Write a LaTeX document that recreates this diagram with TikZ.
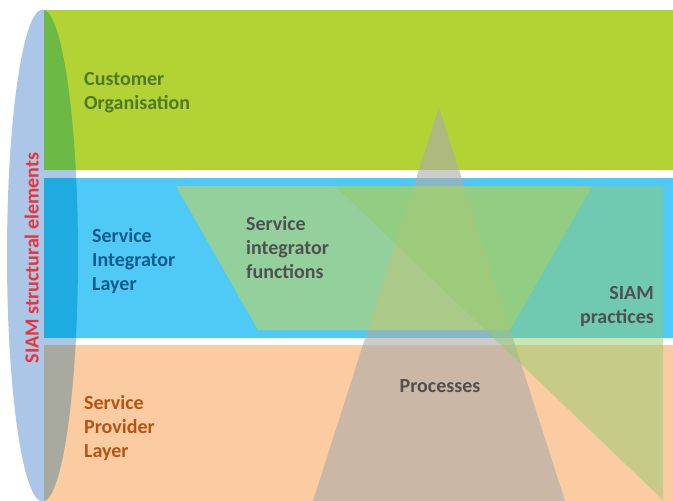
\documentclass[tikz,border=0pt]{standalone}
\usepackage{fontspec}
\setmainfont{Carlito}
\usepackage{xcolor}
\usetikzlibrary{calc}
\definecolor{LayerGreen}{HTML}{B3D335}
\definecolor{LayerBlue}{HTML}{4FC9F5}
\definecolor{LayerOrange}{HTML}{FBCBA1}
\definecolor{ElementBlue}{HTML}{ABC6E6}
\definecolor{ElementGreen}{HTML}{6CBA45}
\definecolor{ElementCyan}{HTML}{1EABE0}
\definecolor{ElementGrey}{HTML}{A8AAA0}
\definecolor{FunctionGreen}{RGB}{195,213,97}
\definecolor{PracticeGreen}{RGB}{146,203,110}
\definecolor{ProcessGrey}{RGB}{172,172,170}
\definecolor{TextGreen}{HTML}{50782A}
\definecolor{TextBlue}{HTML}{155A8C}
\definecolor{TextOrange}{HTML}{B45514}
\definecolor{TextGrey}{HTML}{505050}
\definecolor{TextRed}{HTML}{E8343A}

\begin{document}
\begin{tikzpicture}[x=1pt,y=-1pt,
    layertext/.style={font=\bfseries\fontsize{20}{24}\selectfont,inner sep=0pt},
    parttext/.style={layertext,text=TextGrey}]
    \useasboundingbox (0,0) rectangle (673,501);
    \coordinate (O) at (42.5,255.5);
    % structural elements
    \fill[ElementBlue] (O) ellipse [x radius=35.5,y radius=246];
    % layers
    \foreach \top/\bottom/\name in {10/170/Green,178/338/Blue,345/501/Orange} {
     \fill[Layer\name] (44,\top) rectangle (673,\bottom);
    }
    \begin{scope}
     \clip (O) ellipse [x radius=35.5,y radius=246];
     \foreach \top/\bottom/\name in {10/170/Green,178/338/Cyan,345/501/Grey} {
      \fill[Element\name] (44,\top) rectangle (673,\bottom);
     }
    \end{scope}
    % parts
    \foreach \px/\py/\name in {176/186/F1,592/186/F2,510/330/F3,258/330/F4,
      335/186/S1,663/186/S2,663/500/S3,439/107/P1,565/501/P2,313/501/P3} {
     \coordinate (\name) at (\px,\py);
    }
    \fill[ProcessGrey,opacity=0.62] (P1) -- (P2) -- (P3) -- cycle;
    \fill[FunctionGreen,opacity=0.6] (F1) -- (F2) -- (F3) -- (F4) -- cycle;
    \fill[PracticeGreen,opacity=0.5] (S1) -- (S2) -- (S3) -- cycle;
    % texts
    \node[layertext,text=TextGreen,anchor=base west] (customer) at (84,85)
     {\begin{tabular}[t]{@{}l@{}}Customer\\Organisation\end{tabular}};
    \node[layertext,text=TextBlue,anchor=base west] (integrator) at (92,242)
     {\begin{tabular}[t]{@{}l@{}}Service\\Integrator\\Layer\end{tabular}};
    \node[layertext,text=TextOrange,anchor=base west] (provider) at (84,409)
     {\begin{tabular}[t]{@{}l@{}}Service\\Provider\\Layer\end{tabular}};
    \node[parttext,anchor=base west] (functions) at (246,230)
     {\begin{tabular}[t]{@{}l@{}}Service\\integrator\\functions\end{tabular}};
    \node[parttext,anchor=base east] (practices) at (654,299)
     {\begin{tabular}[t]{@{}r@{}}SIAM\\practices\end{tabular}};
    \node[parttext,anchor=base] (processes) at (440,392) {Processes};
    \node[layertext,text=TextRed,rotate=90,anchor=base] (elements) at (38.5,258)
     {SIAM structural elements};
\end{tikzpicture}
\end{document}
